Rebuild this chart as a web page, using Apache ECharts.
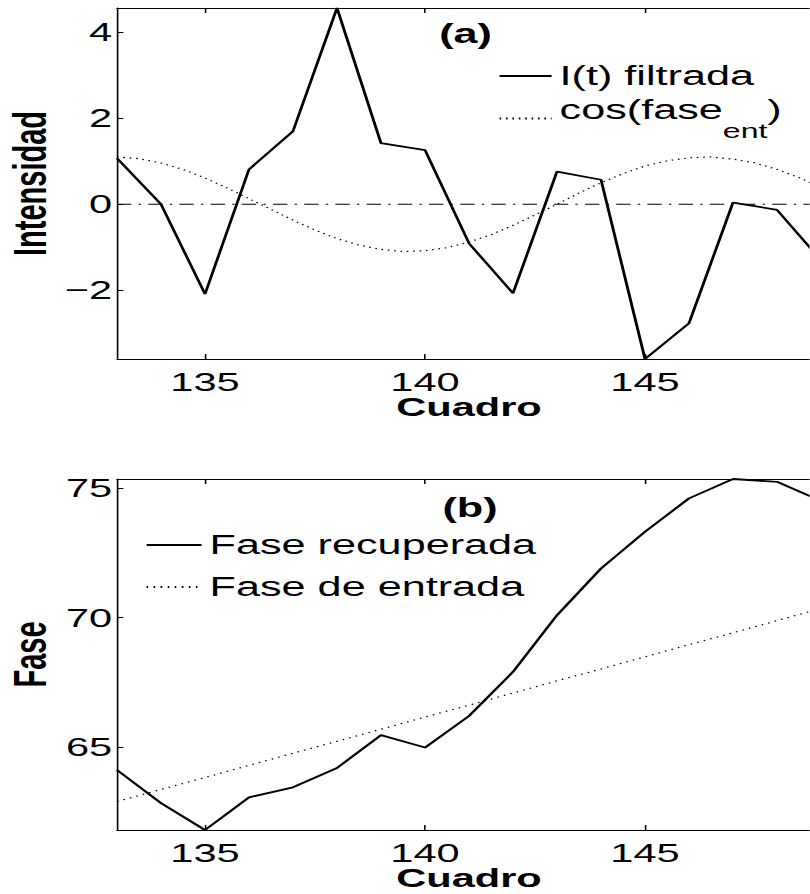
<!DOCTYPE html>
<html><head><meta charset="utf-8">
<script src="https://cdn.jsdelivr.net/npm/echarts@6/dist/echarts.min.js"></script>
<style>
html,body{margin:0;padding:0;background:#fff;overflow:hidden;}
#wrap{width:810px;height:894px;overflow:hidden;position:relative;background:#fff;}
#chart{width:506.25px;height:894px;transform:scaleX(1.6);transform-origin:0 0;}
</style></head><body>
<div id="wrap"><div id="chart"></div></div>
<script>
// ---- data ----
const frames = [133,134,135,136,137,138,139,140,141,142,143,144,145,146,147,148,149];
const intensity = [1.07,0.00,-2.09,0.81,1.70,4.565,1.42,1.26,-0.91,-2.07,0.76,0.57,-3.60,-2.77,0.04,-0.13,-1.30];
const cosFrames = [133,133.5,134,134.5,135,135.5,136,136.5,137,137.5,138,138.5,139,139.5,140,140.5,141,141.5,142,142.5,143,143.5,144,144.5,145,145.5,146,146.5,147,147.5,148,148.5,149];
const cosValues = [1.10,1.06,0.96,0.81,0.61,0.38,0.13,-0.12,-0.37,-0.60,-0.80,-0.95,-1.05,-1.10,-1.08,-1.01,-0.88,-0.71,-0.49,-0.25,0.00,0.26,0.50,0.71,0.89,1.01,1.08,1.10,1.05,0.96,0.81,0.62,0.39];
const zeroFrames = [133,149];
const zeroValues = [0,0];
const phaseRecovered = [64.10,62.82,61.78,63.04,63.43,64.18,65.45,64.97,66.19,67.90,70.09,71.90,73.32,74.61,75.36,75.25,74.51];
const phaseInput = [62.88,63.35,63.81,64.28,64.75,65.21,65.68,66.15,66.61,67.08,67.55,68.01,68.48,68.95,69.41,69.88,70.35];
const xTicks = [135,140,145];
const yTicksTop = [-2,0,2,4];
const yTicksBottom = [65,70,75];
const names = {
  it: 'I(t) filtrada', cos: 'cos(fase_ent)', rec: 'Fase recuperada', inp: 'Fase de entrada',
  xName: 'Cuadro', yTop: 'Intensidad', yBottom: 'Fase', a: '(a)', b: '(b)'
};

const FONT = '"Liberation Sans", Arial, Helvetica, sans-serif';
const pair = (xs, ys) => xs.map((x, i) => [x, ys[i]]);
const minusFmt = v => String(v).replace('-', '\u2212');

function xAxes(grid) {
  const common = {
    type: 'value', gridIndex: grid, min: 133, max: 149,
    axisLine: {show: true, onZero: false, lineStyle: {color: '#000', width: 1}},
    axisTick: {show: true, inside: true, length: 5, customValues: xTicks, lineStyle: {color: '#000', width: 1}},
    splitLine: {show: false}
  };
  return [
    Object.assign({}, common, {
      position: 'bottom',
      axisLabel: {customValues: xTicks, fontSize: 26, color: '#000', fontFamily: FONT, margin: 9.5},
      name: names.xName, nameLocation: 'middle', nameGap: 35, nameMoveOverlap: false,
      nameTextStyle: {fontSize: 26, fontWeight: 'bold', color: '#000', fontFamily: FONT}
    }),
    Object.assign({}, common, {position: 'top', axisLabel: {show: false}})
  ];
}
function yAxis(grid, ticks, name) {
  return {
    type: 'value', gridIndex: grid, min: 'dataMin', max: 'dataMax', position: 'left',
    axisLine: {show: true, onZero: false, lineStyle: {color: '#000', width: 1}},
    axisTick: {show: true, inside: true, length: 4, customValues: ticks, lineStyle: {color: '#000', width: 1}},
    axisLabel: {customValues: ticks, fontSize: 26, color: '#000', fontFamily: FONT, margin: 3, formatter: minusFmt},
    splitLine: {show: false},
    name: name, nameLocation: 'middle', nameGap: 40, nameMoveOverlap: false,
    nameTextStyle: {fontSize: 29, fontWeight: 'bold', color: '#000', fontFamily: FONT}
  };
}
function legendAt(name, left, top, width, extra) {
  return Object.assign({
    data: [name], left: left, top: top, padding: 0, itemWidth: width, itemHeight: 14,
    itemStyle: {opacity: 0, borderWidth: 0},
    textStyle: {fontSize: 27, color: '#000', fontFamily: FONT}, selectedMode: false
  }, extra || {});
}

const chart = echarts.init(document.getElementById('chart'), null, {renderer: 'svg'});
chart.setOption({
  animation: false,
  backgroundColor: '#fff',
  textStyle: {fontFamily: FONT},
  grid: [
    {left: 73.125, top: 8, width: 440, height: 351, outerBoundsMode: 'none', containLabel: false},
    {left: 73.125, top: 479, width: 440, height: 351, outerBoundsMode: 'none', containLabel: false}
  ],
  xAxis: xAxes(0).concat(xAxes(1)),
  yAxis: [yAxis(0, yTicksTop, names.yTop), yAxis(1, yTicksBottom, names.yBottom)],
  legend: [
    legendAt(names.it, 311.25, 62.5, 32.5),
    legendAt(names.cos, 311.25, 96, 32.5, {
      formatter: '{a|cos(fase}{s|ent}{a|)}',
      textStyle: {fontSize: 27, color: '#000', fontFamily: FONT, padding: [0, 0, 18, 0],
        rich: {a: {fontSize: 27, lineHeight: 64, fontFamily: FONT, color: '#000'},
               s: {fontSize: 20, verticalAlign: 'bottom', fontFamily: FONT, color: '#000'}}}
    }),
    legendAt(names.rec, 90.6, 531.5, 34.4),
    legendAt(names.inp, 90.6, 573.5, 34.4)
  ],
  graphic: [
    {type: 'text', x: 291, y: 34, style: {text: names.a, font: 'bold 27px ' + FONT, fill: '#000', align: 'center', verticalAlign: 'middle'}},
    {type: 'text', x: 293.75, y: 508, style: {text: names.b, font: 'bold 27px ' + FONT, fill: '#000', align: 'center', verticalAlign: 'middle'}}
  ],
  series: [
    {name: 'zero', type: 'line', xAxisIndex: 0, yAxisIndex: 0, data: pair(zeroFrames, zeroValues),
     symbol: 'none', silent: true, lineStyle: {color: '#000', width: 1, type: [9, 4.5, 1.5, 4.5]}, z: 1},
    {name: names.it, type: 'line', xAxisIndex: 0, yAxisIndex: 0, data: pair(frames, intensity),
     symbol: 'none', lineStyle: {color: '#000', width: 1.8}, itemStyle: {color: '#000'}, z: 3},
    {name: names.cos, type: 'line', xAxisIndex: 0, yAxisIndex: 0, data: pair(cosFrames, cosValues),
     symbol: 'none', lineStyle: {color: '#000', width: 1.2, type: [1, 3]}, itemStyle: {color: '#000'}, z: 2},
    {name: names.rec, type: 'line', xAxisIndex: 2, yAxisIndex: 1, data: pair(frames, phaseRecovered),
     symbol: 'none', lineStyle: {color: '#000', width: 1.8}, itemStyle: {color: '#000'}, z: 3},
    {name: names.inp, type: 'line', xAxisIndex: 2, yAxisIndex: 1, data: pair(frames, phaseInput),
     symbol: 'none', lineStyle: {color: '#000', width: 1.2, type: [1, 3.4]}, itemStyle: {color: '#000'}, z: 2}
  ]
});
</script>
</body></html>
